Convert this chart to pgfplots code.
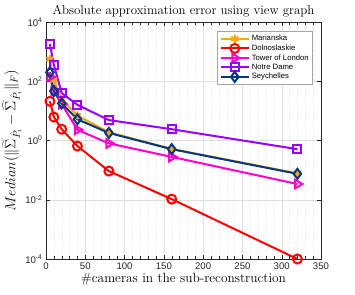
\documentclass[border=0pt]{standalone}
\usepackage{pgfplots}
\pgfplotsset{compat=1.18}
\usepackage{fontspec}
\newfontfamily\arial{Liberation Sans}
\definecolor{cMar}{rgb}{0.96,0.66,0.05}
\definecolor{cDol}{rgb}{1,0,0}
\definecolor{cTow}{rgb}{1,0,0.8}
\definecolor{cNot}{rgb}{0.6,0,1}
\definecolor{cSey}{rgb}{0,0.22,0.5}
\definecolor{axc}{rgb}{0.15,0.15,0.15}
\begin{document}
\begin{tikzpicture}
\useasboundingbox (-46pt,-35pt) rectangle (309pt,259pt);
\begin{axis}[
  scale only axis, width=275pt, height=237pt,
  ymode=log, xmin=0, xmax=350, ymin=1e-4, ymax=1e4,
  xtick={0,50,...,350},
  ytick={1e-4,1e-2,1,1e2,1e4},
  yticklabels={10\textsuperscript{-4},10\textsuperscript{-2},10\textsuperscript{0},10\textsuperscript{2},10\textsuperscript{4}},
  minor x tick num=4,
  tick label style={font=\arial\fontsize{9.6}{10}\selectfont, color=axc},
  xticklabel={\pgfmathprintnumber[assume math mode=true]{\tick}},
  axis line style={axc, line width=0.5pt},
  tick style={axc},
  grid=both,
  major grid style={gray!25, line width=0.4pt},
  minor grid style={gray!18, dotted, line width=0.4pt},
  title={\fontsize{12.9}{14}\selectfont Absolute approximation error using view graph},
  title style={yshift=-5pt},
  xlabel={\fontsize{13.4}{14}\selectfont \#cameras in the sub-reconstruction},
  ylabel={\fontsize{14.5}{16}\selectfont $Median(\|\widetilde{\Sigma}_{\hat{P}_i}-\widehat{\Sigma}_{\hat{P}_i}\|_F)$},
  xlabel style={yshift=3pt},
  ylabel style={yshift=-3pt},
  every axis plot/.append style={line width=2pt},
  legend style={at={(1,1)}, anchor=north east, xshift=-8pt, yshift=-9pt,
    font=\arial\fontsize{7.7}{9}\selectfont, draw=gray!70, line width=0.6pt,
    row sep=-1.5pt, inner xsep=2pt, inner ysep=2pt},
  legend cell align=left,
  legend image code/.code={\draw[#1] (0pt,0pt) -- (28pt,0pt); \draw[#1] plot coordinates {(14pt,0pt)};},
]
\addplot[color=cMar, mark=asterisk, mark size=4pt] coordinates {(5,560) (10,110) (20,25) (40,7) (80,1.9) (160,0.52) (320,0.078)};
\addlegendentry{Marianska}
\addplot[color=cDol, mark=o, mark size=4.5pt] coordinates {(5,21) (10,6.2) (20,2.4) (40,0.65) (80,0.093) (160,0.0105) (320,0.0001)};
\addlegendentry{Dolnoslaskie}
\addplot[color=cTow, mark=triangle, mark size=5pt, mark options={rotate=-90}] coordinates {(5,140) (10,45) (20,17) (40,2.3) (80,0.8) (160,0.28) (320,0.034)};
\addlegendentry{Tower of London}
\addplot[color=cNot, mark=square, mark size=4pt] coordinates {(5,1800) (10,355) (20,40) (40,16) (80,4.9) (160,2.4) (320,0.51)};
\addlegendentry{Notre Dame}
\addplot[color=cSey, mark=diamond, mark size=5pt] coordinates {(5,200) (10,47) (20,18) (40,5.2) (80,1.8) (160,0.51) (320,0.075)};
\addlegendentry{Seychelles}
\end{axis}
\end{tikzpicture}
\end{document}
